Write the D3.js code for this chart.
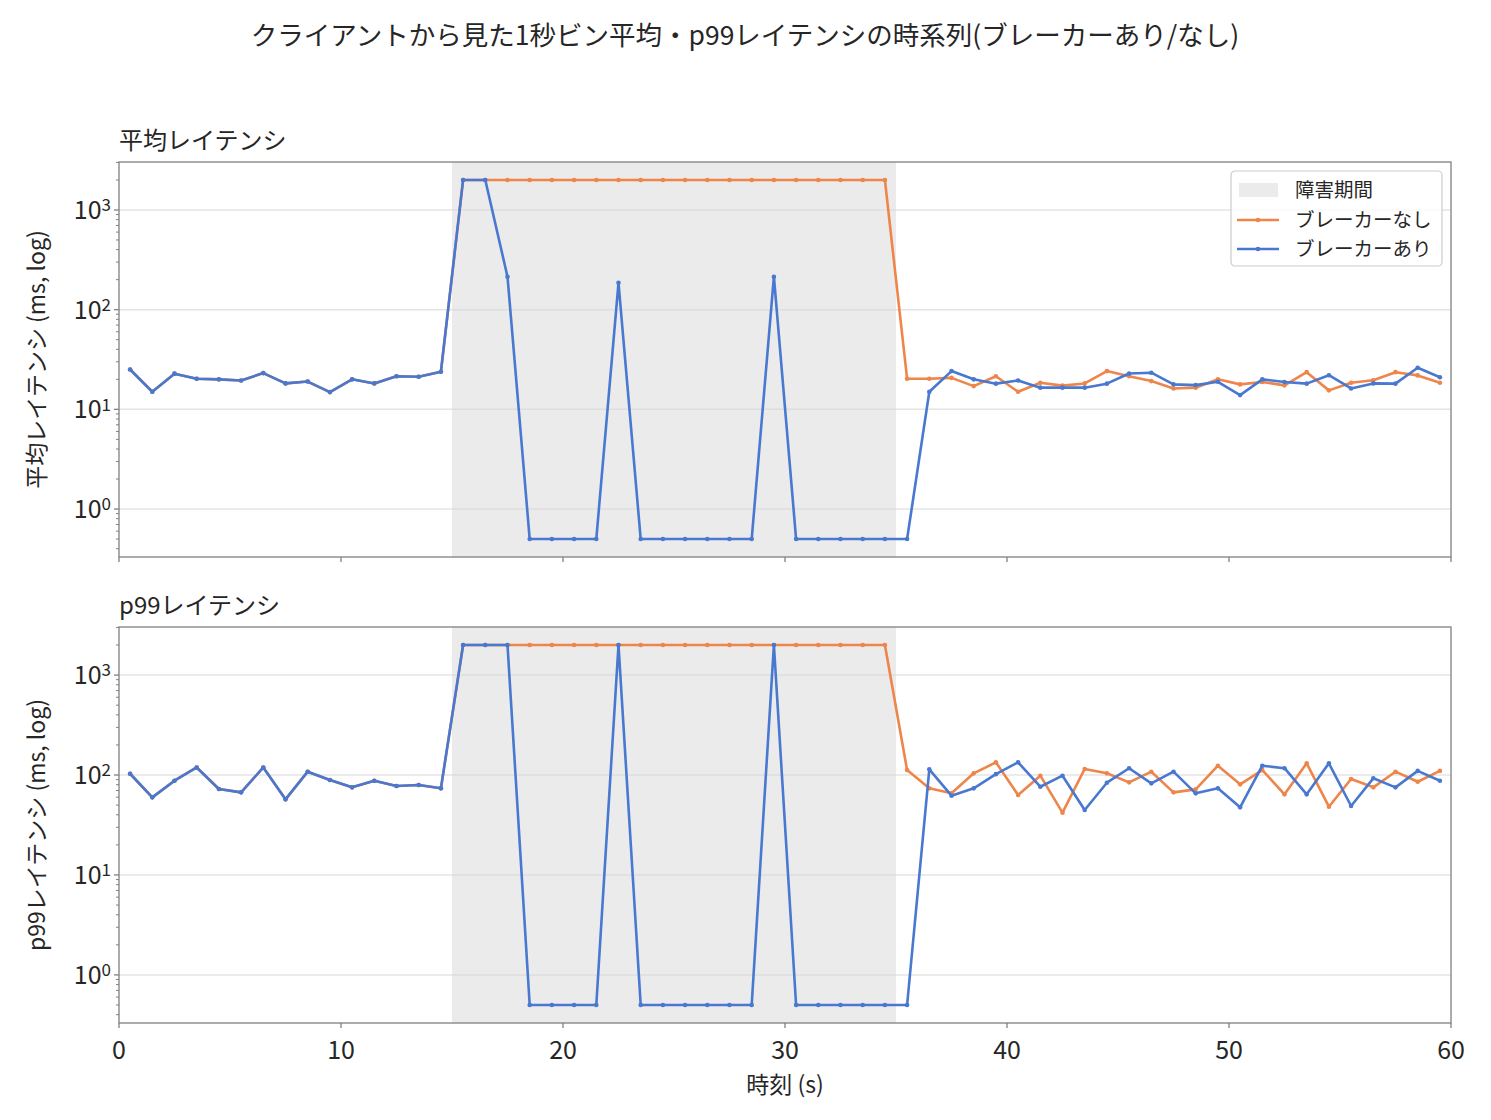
<!DOCTYPE html>
<html>
<head>
<meta charset="utf-8">
<script src="https://cdn.jsdelivr.net/npm/d3@7"></script>
<style>
  body { margin: 0; background: #fff; }
  svg text { font-family: "Noto Sans CJK JP", "Noto Sans", sans-serif; fill: #262626; }
</style>
</head>
<body>
<svg id="canvas"></svg>
<script>
// time bins (center of each 1s bin)
let times = d3.range(60).map(i => i + 0.5)

let faultStart = 15
let faultEnd = 35

// 平均レイテンシ (ms)
let meanNoBreaker = [
  25.1, 15.0, 22.8, 20.3, 20.0, 19.5, 23.1, 18.2, 19.0, 14.9,
  20.0, 18.2, 21.5, 21.2, 23.8, 2000, 2000, 2000, 2000, 2000,
  2000, 2000, 2000, 2000, 2000, 2000, 2000, 2000, 2000, 2000,
  2000, 2000, 2000, 2000, 2000, 20.3, 20.3, 20.7, 17.1, 21.5,
  15.0, 18.5, 17.3, 18.2, 24.2, 21.5, 19.2, 16.2, 16.5, 20.0,
  17.8, 18.8, 17.4, 23.6, 15.5, 18.5, 19.6, 23.6, 21.9, 18.5
]
let meanBreaker = [
  25.1, 15.0, 22.8, 20.3, 20.0, 19.5, 23.1, 18.2, 19.0, 14.9,
  20.0, 18.2, 21.5, 21.2, 23.8, 2000, 2000, 214, 0.5, 0.5,
  0.5, 0.5, 186, 0.5, 0.5, 0.5, 0.5, 0.5, 0.5, 214,
  0.5, 0.5, 0.5, 0.5, 0.5, 0.5, 15.0, 24.2, 20.0, 18.1,
  19.5, 16.5, 16.5, 16.5, 18.1, 22.9, 23.3, 17.8, 17.5, 18.9,
  13.9, 20.0, 18.8, 18.1, 22.0, 16.2, 18.2, 18.1, 26.1, 21.0
]

// p99レイテンシ (ms)
let p99NoBreaker = [
  103, 59.8, 87.7, 119, 72.4, 67.1, 119, 57.1, 108, 89.1,
  75.3, 87.7, 77.6, 79.4, 73.6, 2000, 2000, 2000, 2000, 2000,
  2000, 2000, 2000, 2000, 2000, 2000, 2000, 2000, 2000, 2000,
  2000, 2000, 2000, 2000, 2000, 112, 73.6, 65.6, 104, 134,
  63.1, 98.5, 42.0, 115, 104, 84.5, 108, 67.1, 71.9, 124,
  80.7, 112, 64.1, 131, 48.2, 91.2, 75.3, 108, 85.7, 110
]
let p99Breaker = [
  103, 59.8, 87.7, 119, 72.4, 67.1, 119, 57.1, 108, 89.1,
  75.3, 87.7, 77.6, 79.4, 73.6, 2000, 2000, 2000, 0.5, 0.5,
  0.5, 0.5, 2000, 0.5, 0.5, 0.5, 0.5, 0.5, 0.5, 2000,
  0.5, 0.5, 0.5, 0.5, 0.5, 0.5, 114, 62.1, 73.6, 102,
  134, 76.4, 98.5, 44.7, 83.8, 117, 82.6, 108, 65.6, 73.6,
  47.5, 124, 117, 64.1, 131, 49.0, 92.7, 75.3, 110, 87.7
]

let xTicks = [0, 10, 20, 30, 40, 50, 60]
let yTickExps = [0, 1, 2, 3]

let seriesNames = ['ブレーカーなし', 'ブレーカーあり']
let shadeName = '障害期間'

let width = 1491
let height = 1120
let left = 119
let right = 1451

let colorNo = '#ee854a'
let colorYes = '#4878d0'
let shadeColor = '#ebebeb'
let spineColor = '#808080'

let svg = d3.select('#canvas')
svg.attr('width', width).attr('height', height)

svg.append('text')
  .attr('x', 745)
  .attr('y', 45)
  .attr('text-anchor', 'middle')
  .style('font-size', '26.5px')
  .text('クライアントから見た1秒ビン平均・p99レイテンシの時系列(ブレーカーあり/なし)')

let xScale = d3.scaleLinear().domain([0, 60]).range([left, right])

let drawPanel = (top, bottom, title, ylabel, seriesNo, seriesYes, showX, showLegend) => {

  let all = seriesNo.concat(seriesYes)
  let lo = Math.log10(d3.min(all))
  let hi = Math.log10(d3.max(all))
  let pad = (hi - lo) * 0.05
  let yScale = d3.scaleLog()
    .domain([Math.pow(10, lo - pad), Math.pow(10, hi + pad)])
    .range([bottom, top])

  let g = svg.append('g')

  // shaded fault window
  g.append('rect')
    .attr('x', xScale(faultStart))
    .attr('y', top)
    .attr('width', xScale(faultEnd) - xScale(faultStart))
    .attr('height', bottom - top)
    .attr('fill', shadeColor)

  // horizontal grid
  g.selectAll('.grid')
    .data(yTickExps)
    .enter()
    .append('line')
    .attr('x1', left)
    .attr('x2', right)
    .attr('y1', d => yScale(Math.pow(10, d)))
    .attr('y2', d => yScale(Math.pow(10, d)))
    .attr('stroke', '#d9d9d9')
    .attr('stroke-opacity', 0.7)
    .attr('stroke-width', 1.5)

  let line = d3.line()
    .x((d, i) => xScale(times[i]))
    .y(d => yScale(d))

  let drawSeries = (vals, color) => {
    g.append('path')
      .datum(vals)
      .attr('d', line)
      .attr('fill', 'none')
      .attr('stroke', color)
      .attr('stroke-width', 2.6)
      .attr('stroke-linejoin', 'round')
    g.append('g')
      .selectAll('circle')
      .data(vals)
      .enter()
      .append('circle')
      .attr('cx', (d, i) => xScale(times[i]))
      .attr('cy', d => yScale(d))
      .attr('r', 2.3)
      .attr('fill', color)
  }
  drawSeries(seriesNo, colorNo)
  drawSeries(seriesYes, colorYes)

  // frame
  g.append('rect')
    .attr('x', left)
    .attr('y', top)
    .attr('width', right - left)
    .attr('height', bottom - top)
    .attr('fill', 'none')
    .attr('stroke', spineColor)
    .attr('stroke-width', 1.3)

  // y ticks (major + minor, log)
  let [d0, d1] = yScale.domain()
  let minors = []
  for (let e = Math.floor(Math.log10(d0)); e <= Math.ceil(Math.log10(d1)); e++) {
    for (let m = 2; m <= 9; m++) {
      let v = m * Math.pow(10, e)
      if (v >= d0 && v <= d1) minors.push(v)
    }
  }
  g.selectAll('.minor')
    .data(minors)
    .enter()
    .append('line')
    .attr('x1', left)
    .attr('x2', left - 3)
    .attr('y1', d => yScale(d))
    .attr('y2', d => yScale(d))
    .attr('stroke', spineColor)
    .attr('stroke-width', 1)

  let yt = g.selectAll('.ytick')
    .data(yTickExps)
    .enter()
    .append('g')
    .attr('transform', d => 'translate(' + left + ',' + yScale(Math.pow(10, d)) + ')')
  yt.append('line')
    .attr('x1', 0).attr('x2', -5)
    .attr('stroke', spineColor)
    .attr('stroke-width', 1.3)
  let lab = yt.append('text')
    .attr('x', -8)
    .attr('dy', '0.36em')
    .attr('text-anchor', 'end')
    .style('font-size', '25px')
  lab.append('tspan').text('10')
  lab.append('tspan')
    .attr('dy', '-0.45em')
    .style('font-size', '17px')
    .text(d => d)

  // x ticks
  let xt = g.selectAll('.xtick')
    .data(xTicks)
    .enter()
    .append('g')
    .attr('transform', d => 'translate(' + xScale(d) + ',' + bottom + ')')
  xt.append('line')
    .attr('y1', 0).attr('y2', 5)
    .attr('stroke', spineColor)
    .attr('stroke-width', 1.3)
  if (showX) {
    xt.append('text')
      .attr('y', 36)
      .attr('text-anchor', 'middle')
      .style('font-size', '25px')
      .text(d => d)
  }

  // titles
  g.append('text')
    .attr('x', left)
    .attr('y', top - 13)
    .style('font-size', '24px')
    .text(title)

  g.append('text')
    .attr('transform', 'translate(45,' + (top + bottom) / 2 + ') rotate(-90)')
    .attr('text-anchor', 'middle')
    .style('font-size', '23px')
    .text(ylabel)

  if (showLegend) {
    let lg = g.append('g').attr('transform', 'translate(1231,171)')
    lg.append('rect')
      .attr('width', 211).attr('height', 95)
      .attr('rx', 4)
      .attr('fill', 'white')
      .attr('fill-opacity', 0.8)
      .attr('stroke', '#cccccc')
      .attr('stroke-width', 1.2)
    lg.append('rect')
      .attr('x', 8).attr('y', 12)
      .attr('width', 39).attr('height', 14)
      .attr('fill', shadeColor)
    lg.append('text')
      .attr('x', 64).attr('y', 19).attr('dy', '0.35em')
      .style('font-size', '19.5px')
      .text(shadeName)
    let entries = [[seriesNames[0], colorNo], [seriesNames[1], colorYes]]
    entries.forEach((e, i) => {
      let yy = 49 + i * 29
      lg.append('line')
        .attr('x1', 6).attr('x2', 48)
        .attr('y1', yy).attr('y2', yy)
        .attr('stroke', e[1]).attr('stroke-width', 2.6)
      lg.append('circle')
        .attr('cx', 27).attr('cy', yy).attr('r', 2.3)
        .attr('fill', e[1])
      lg.append('text')
        .attr('x', 64).attr('y', yy).attr('dy', '0.35em')
        .style('font-size', '19.5px')
        .text(e[0])
    })
  }
}

drawPanel(162, 557, '平均レイテンシ', '平均レイテンシ (ms, log)', meanNoBreaker, meanBreaker, false, true)
drawPanel(627, 1023, 'p99レイテンシ', 'p99レイテンシ (ms, log)', p99NoBreaker, p99Breaker, true, false)

svg.append('text')
  .attr('x', (left + right) / 2)
  .attr('y', 1093)
  .attr('text-anchor', 'middle')
  .style('font-size', '23px')
  .text('時刻 (s)')
</script>
</body>
</html>
